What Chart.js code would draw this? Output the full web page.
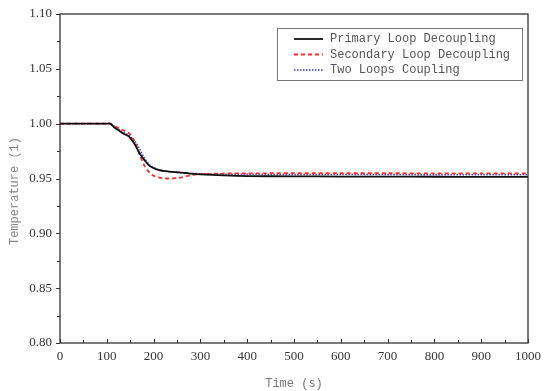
<!DOCTYPE html>
<html>
<head>
<meta charset="utf-8">
<script src="https://cdn.jsdelivr.net/npm/chart.js@4.4.0/dist/chart.umd.min.js"></script>
<style>
html,body{margin:0;padding:0;background:#fff;}
#wrap{width:544px;height:391px;position:relative;}
</style>
</head>
<body>
<div id="wrap"><canvas id="c" width="544" height="391"></canvas></div>
<script>
// ---- data ----
const time      = [0, 50, 100, 107, 115, 125, 135, 145, 150, 160, 170, 180, 190, 200, 210, 220, 230, 240, 250, 260, 270, 280, 300, 350, 400, 500, 600, 700, 800, 900, 1000];
const primary   = [1.000, 1.000, 1.000, 1.000, 0.997, 0.994, 0.991, 0.989, 0.987, 0.981, 0.973, 0.967, 0.962, 0.9595, 0.9578, 0.957, 0.9565, 0.956, 0.9557, 0.9553, 0.955, 0.9545, 0.9538, 0.9528, 0.9522, 0.952, 0.9518, 0.9517, 0.9516, 0.9515, 0.9515];
const secondary = [1.000, 1.000, 1.000, 1.000, 0.998, 0.996, 0.994, 0.992, 0.990, 0.983, 0.972, 0.962, 0.956, 0.9525, 0.951, 0.9503, 0.950, 0.950, 0.9505, 0.951, 0.952, 0.953, 0.954, 0.9545, 0.9547, 0.9548, 0.9548, 0.9548, 0.9547, 0.9547, 0.9547];
const coupling  = [1.000, 1.000, 1.000, 1.000, 0.998, 0.995, 0.992, 0.990, 0.988, 0.984, 0.977, 0.969, 0.963, 0.960, 0.958, 0.957, 0.9563, 0.956, 0.9555, 0.955, 0.9548, 0.9546, 0.9544, 0.954, 0.9538, 0.9537, 0.9536, 0.9536, 0.9535, 0.9535, 0.9535];
const seriesNames = ["Primary Loop Decoupling", "Secondary Loop Decoupling", "Two Loops Coupling"];
const xTicks = [0, 100, 200, 300, 400, 500, 600, 700, 800, 900, 1000];
const yTicks = [0.80, 0.85, 0.90, 0.95, 1.00, 1.05, 1.10];
const xTitle = "Time (s)";
const yTitle = "Temperature (1)";

const pts = arr => arr.map((v, i) => ({x: time[i], y: v}));

const frameAndTicks = {
  id: 'frameAndTicks',
  afterDatasetsDraw(chart) {
    const ctx = chart.ctx, a = chart.chartArea;
    const xs = chart.scales.x, ys = chart.scales.y;
    ctx.save();
    ctx.strokeStyle = '#333';
    ctx.lineWidth = 1.3;
    ctx.strokeRect(a.left, a.top, a.right - a.left, a.bottom - a.top);
    ctx.lineWidth = 1;
    for (let v = 0; v <= 1000; v += 50) {
      const px = Math.round(xs.getPixelForValue(v)) + 0.5;
      const len = (v % 100 === 0) ? 4 : 3;
      ctx.beginPath(); ctx.moveTo(px, a.bottom); ctx.lineTo(px, a.bottom - len); ctx.stroke();
    }
    for (let k = 0; k <= 12; k++) {
      const v = 0.8 + k * 0.025;
      const py = Math.round(ys.getPixelForValue(v)) + 0.5;
      const len = (k % 2 === 0) ? 4 : 3;
      ctx.beginPath(); ctx.moveTo(a.left, py); ctx.lineTo(a.left - len, py); ctx.stroke();
    }
    ctx.translate(15, 191);
    ctx.rotate(-Math.PI / 2);
    ctx.font = '12px "Liberation Mono", monospace';
    ctx.fillStyle = '#888';
    ctx.textAlign = 'center';
    ctx.textBaseline = 'middle';
    ctx.fillText(yTitle, 0, 0);
    ctx.restore();
  }
};

const boxLegend = {
  id: 'boxLegend',
  afterDraw(chart) {
    const ctx = chart.ctx;
    const bx = 277, by = 28, bw = 245, bh = 52;
    ctx.save();
    ctx.fillStyle = '#fff';
    ctx.fillRect(bx, by, bw, bh);
    ctx.strokeStyle = '#777';
    ctx.lineWidth = 1;
    ctx.strokeRect(bx + 0.5, by + 0.5, bw, bh);
    ctx.font = '12px "Liberation Mono", "DejaVu Sans Mono", monospace';
    ctx.textBaseline = 'middle';
    chart.data.datasets.forEach((ds, i) => {
      const y = by + 11 + i * 15.5;
      ctx.strokeStyle = ds.borderColor;
      ctx.lineWidth = ds.borderWidth;
      ctx.setLineDash(ds.borderDash || []);
      ctx.beginPath(); ctx.moveTo(294, y); ctx.lineTo(323, y); ctx.stroke();
      ctx.setLineDash([]);
      ctx.fillStyle = '#555';
      ctx.fillText(ds.label, 330, y);
    });
    ctx.restore();
  }
};

new Chart(document.getElementById('c'), {
  type: 'line',
  data: {
    datasets: [
      {label: seriesNames[0], data: pts(primary), borderColor: '#111', borderWidth: 1.8, pointRadius: 0, tension: 0.3, fill: false},
      {label: seriesNames[1], data: pts(secondary), borderColor: '#ff2a2a', borderWidth: 1.8, borderDash: [4, 3], pointRadius: 0, tension: 0.3, fill: false},
      {label: seriesNames[2], data: pts(coupling), borderColor: '#3a3acc', borderWidth: 1.5, borderDash: [1.5, 1.5], pointRadius: 0, tension: 0.3, fill: false}
    ]
  },
  options: {
    responsive: false,
    animation: false,
    layout: {autoPadding: false, padding: {left: 0, right: 16, top: 14, bottom: 0}},
    plugins: {legend: {display: false}, tooltip: {enabled: false}},
    scales: {
      x: {
        type: 'linear', min: 0, max: 1000,
        grid: {display: false, drawTicks: false},
        border: {display: false},
        afterBuildTicks: s => { s.ticks = xTicks.map(v => ({value: v})); },
        ticks: {padding: 6, color: '#333', font: {family: '"Liberation Serif", serif', size: 13}, maxRotation: 0, autoSkip: false, callback: v => String(v)},
        title: {display: true, text: xTitle, color: '#777', font: {family: '"Liberation Mono", monospace', size: 12}, padding: {top: 5, bottom: 0}},
        afterFit: s => { s.height = 48; s.paddingLeft = 0; s.paddingRight = 0; }
      },
      y: {
        min: 0.8, max: 1.1,
        grid: {display: false, drawTicks: false},
        border: {display: false},
        afterBuildTicks: s => { s.ticks = yTicks.map(v => ({value: v})); },
        ticks: {padding: 8, color: '#333', font: {family: '"Liberation Serif", serif', size: 13}, callback: v => Number(v).toFixed(2), autoSkip: false},
        title: {display: false},
        afterFit: s => { s.width = 60; s.paddingTop = 0; s.paddingBottom = 0; }
      }
    }
  },
  plugins: [frameAndTicks, boxLegend]
});
</script>
</body>
</html>
